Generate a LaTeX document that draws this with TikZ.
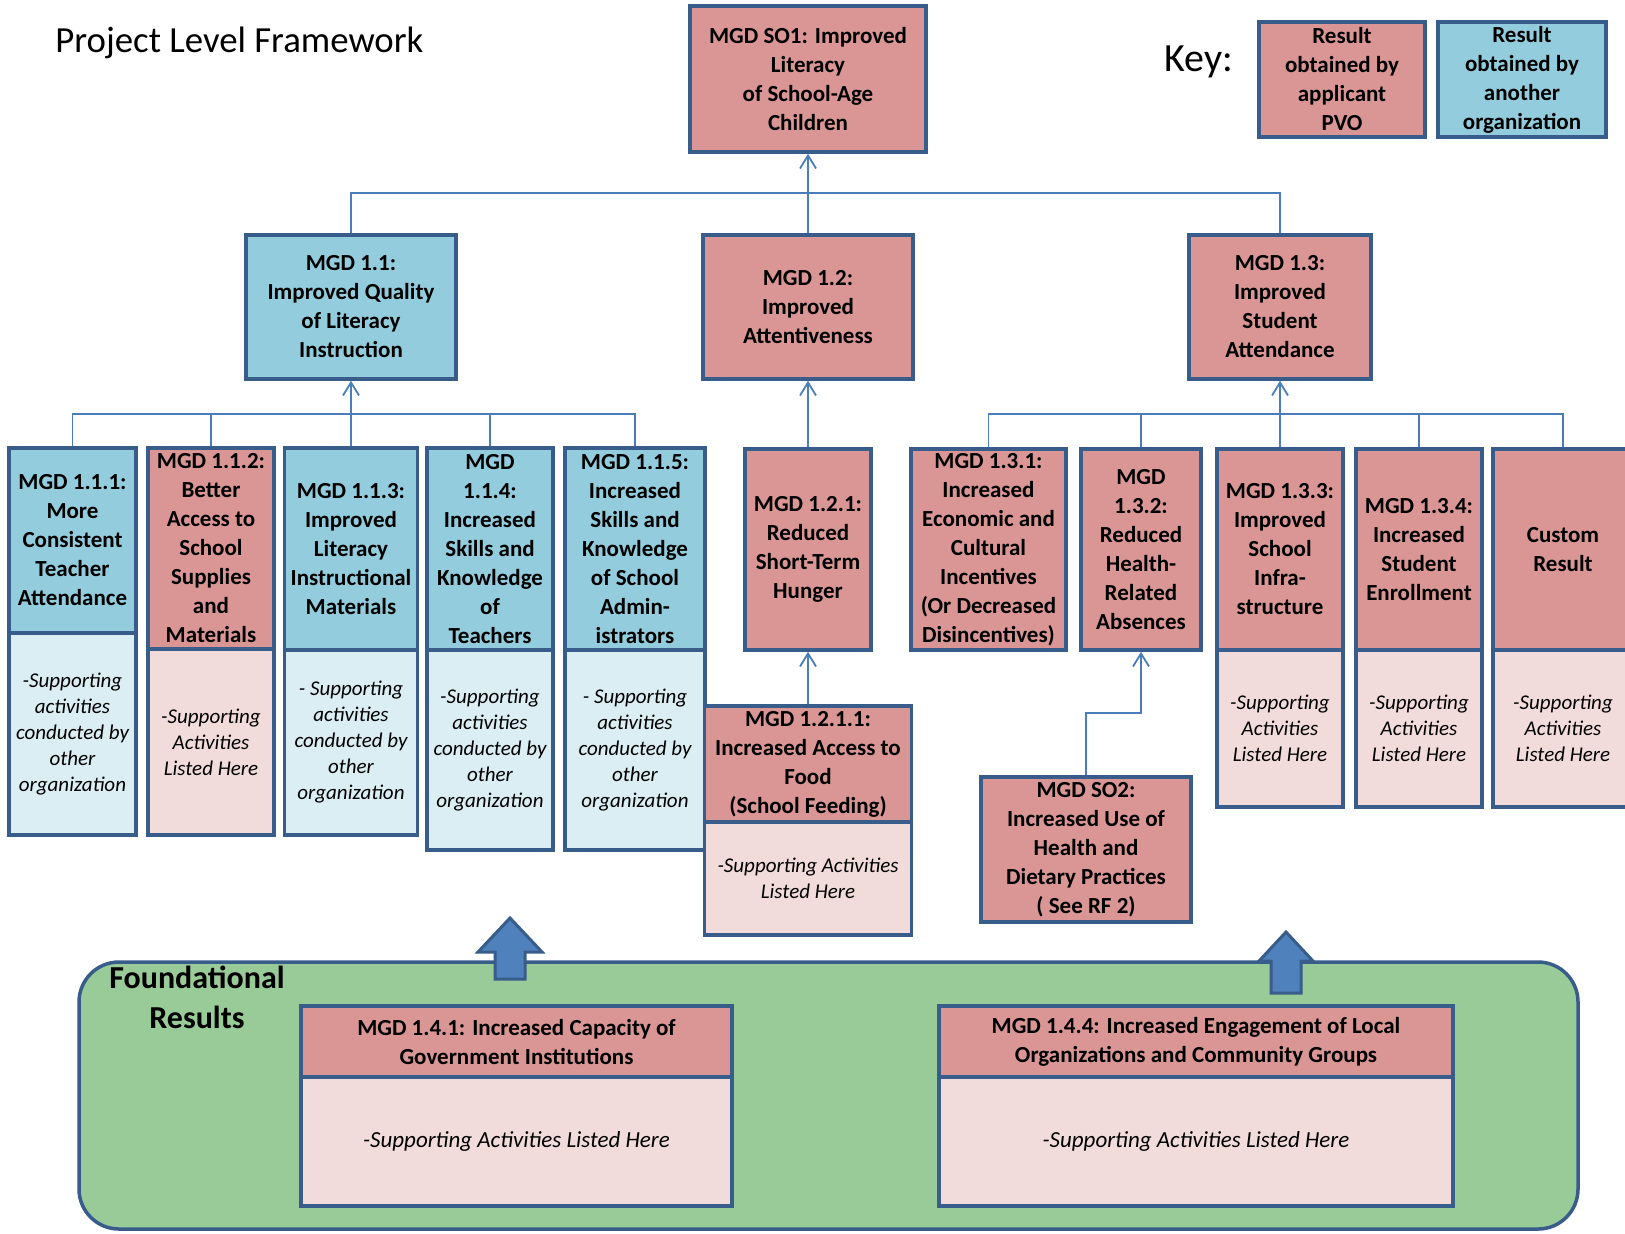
\documentclass[tikz,border=0pt]{standalone}
\usepackage{fontspec}
\setmainfont{Carlito}
\usetikzlibrary{arrows.meta}
\definecolor{pinkH}{HTML}{D99694}
\definecolor{pinkL}{HTML}{F2DCDB}
\definecolor{blueH}{HTML}{93CDDD}
\definecolor{blueL}{HTML}{DBEEF4}
\definecolor{bord}{HTML}{385D8A}
\definecolor{lineC}{HTML}{4A7EBB}
\definecolor{greenF}{HTML}{99CB98}
\definecolor{arrF}{HTML}{4F81BD}
\begin{document}
\begin{tikzpicture}[x=0.5pt,y=-0.5pt,
  box/.style={draw=bord,line width=1.75pt,inner sep=0pt,align=center,
    font=\fontsize{11.5}{14.5}\selectfont\bfseries},
  pk/.style={box,fill=pinkH},
  bl/.style={box,fill=blueH},
  pkb/.style={box,fill=pinkL,font=\fontsize{10.5}{13}\selectfont\itshape},
  blb/.style={box,fill=blueL,font=\fontsize{10.5}{13}\selectfont\itshape},
  pkbig/.style={box,fill=pinkL,font=\fontsize{11.5}{13}\selectfont\itshape},
  sz/.style 2 args={minimum width=#1*0.5pt,minimum height=#2*0.5pt},
  conn/.style={draw=lineC,line width=0.9pt},
  arr/.style={conn,-{Straight Barb[length=6.5pt,width=8pt]}},
  blockarrow/.style={fill=arrF,draw=bord,line width=1.5pt,line join=miter}
]
\useasboundingbox (0,0) rectangle (1625,1233);
\clip (0,0) rectangle (1625,1233);
\fill[white] (0,0) rectangle (1625,1233);

% title and key
\node[anchor=base west,inner sep=0pt,font=\fontsize{18.4}{22}\selectfont] (title) at (55,52) {Project Level Framework};
\node[anchor=base west,inner sep=0pt,font=\fontsize{20}{24}\selectfont] (key) at (1164,71) {Key:};
\node[pk,sz={166}{115}] (key1) at (1342,79.5) {Result\\obtained by\\applicant\\PVO};
\node[bl,sz={168}{115}] (key2) at (1522,79.5) {Result\\obtained by\\another\\organization};

% top levels
\node[pk,sz={236}{146}] (so1) at (808,79) {MGD SO1: Improved\\Literacy\\of School-Age\\Children};
\node[bl,sz={210}{144}] (m11) at (351,307) {MGD 1.1:\\Improved Quality\\of Literacy\\Instruction};
\node[pk,sz={210}{144}] (m12) at (808,307) {MGD 1.2:\\Improved\\Attentiveness};
\node[pk,sz={182}{144}] (m13) at (1280,307) {MGD 1.3:\\Improved\\Student\\Attendance};

% row 3 (MGD 1.1.x)
\node[bl,sz={127}{185}] (m111) at (72.5,540.5) {MGD 1.1.1:\\More\\Consistent\\Teacher\\Attendance};
\node[blb,sz={127}{202}] (m111b) at (72.5,734) {-Supporting\\activities\\conducted by\\other\\organization};
\node[pk,sz={126}{201}] (m112) at (211,548.5) {MGD 1.1.2:\\Better\\Access to\\School\\Supplies\\and\\Materials};
\node[pkb,sz={126}{186}] (m112b) at (211,742) {-Supporting\\Activities\\Listed Here};
\node[bl,sz={133}{202}] (m113) at (351,549) {MGD 1.1.3:\\Improved\\Literacy\\Instructional\\Materials};
\node[blb,sz={133}{185}] (m113b) at (351,742.5) {- Supporting\\activities\\conducted by\\other\\organization};
\node[bl,sz={126}{202}] (m114) at (490,549) {MGD\\1.1.4:\\Increased\\Skills and\\Knowledge\\of\\Teachers};
\node[blb,sz={126}{200}] (m114b) at (490,750) {-Supporting\\activities\\conducted by\\other\\organization};
\node[bl,sz={140}{202}] (m115) at (635,549) {MGD 1.1.5:\\Increased\\Skills and\\Knowledge\\of School\\Admin-\\istrators};
\node[blb,sz={140}{200}] (m115b) at (635,750) {- Supporting\\activities\\conducted by\\other\\organization};

% MGD 1.2.x
\node[pk,sz={126}{201}] (m121) at (808,549.5) {MGD 1.2.1:\\Reduced\\Short-Term\\Hunger};
\node[pk,sz={207}{116}] (m1211) at (808,764) {MGD 1.2.1.1:\\Increased Access to\\Food\\(School Feeding)};
\node[pkb,sz={207}{113}] (m1211b) at (808,878.5) {-Supporting Activities\\Listed Here};

% MGD 1.3.x
\node[pk,sz={155}{201}] (m131) at (988.5,549.5) {MGD 1.3.1:\\Increased\\Economic and\\Cultural\\Incentives\\(Or Decreased\\Disincentives)};
\node[pk,sz={120}{201}] (m132) at (1141,549.5) {MGD\\1.3.2:\\Reduced\\Health-\\Related\\Absences};
\node[pk,sz={126}{201}] (m133) at (1280,549.5) {MGD 1.3.3:\\Improved\\School\\Infra-\\structure};
\node[pkb,sz={126}{157}] (m133b) at (1280,728.5) {-Supporting\\Activities\\Listed Here};
\node[pk,sz={126}{201}] (m134) at (1419,549.5) {MGD 1.3.4:\\Increased\\Student\\Enrollment};
\node[pkb,sz={126}{157}] (m134b) at (1419,728.5) {-Supporting\\Activities\\Listed Here};
\node[pk,sz={140}{201}] (cust) at (1563,549.5) {Custom\\Result};
\node[pkb,sz={140}{157}] (custb) at (1563,728.5) {-Supporting\\Activities\\Listed Here};
\node[pk,sz={210}{145}] (so2) at (1086,849.5) {MGD SO2:\\Increased Use of\\Health and\\Dietary Practices\\( See RF 2)};

% connectors
\coordinate (b1) at (808,193);
\draw[conn] (m11.north) |- (b1) -| (m13.north);
\draw[arr] (m12.north) -- (so1.south);

\coordinate (b2) at (351,414);
\draw[conn] (m111.north) |- (m115.north |- b2) -- (m115.north);
\draw[conn] (m112.north) -- (m112.north |- b2);
\draw[conn] (m114.north) -- (m114.north |- b2);
\draw[conn] (m113.north) -- (b2);
\draw[arr] (b2) -- (m11.south);

\draw[arr] (m121.north) -- (m12.south);
\draw[arr] (m1211.north) -- (m121.south);

\coordinate (b3) at (1280,414);
\draw[conn] (m131.north) |- (cust.north |- b3) -- (cust.north);
\draw[conn] (m132.north) -- (m132.north |- b3);
\draw[conn] (m134.north) -- (m134.north |- b3);
\draw[conn] (m133.north) -- (b3);
\draw[arr] (b3) -- (m13.south);

\coordinate (j) at (1086,713);
\draw[arr] (so2.north) -- (j) -| (m132.south);

% foundational results
\node[draw=bord,line width=1.75pt,fill=greenF,rounded corners=20pt,minimum width=1499*0.5pt,minimum height=267*0.5pt] (fnd) at (828.5,1095.5) {};
\node[inner sep=0pt,align=center,font=\fontsize{16}{20}\selectfont\bfseries] (fndt) at (197,997) {Foundational\\Results};
\node[pk,sz={431}{71}] (m141) at (516.5,1041.5) {MGD 1.4.1: Increased Capacity of\\Government Institutions};
\node[pkbig,sz={431}{129}] (m141b) at (516.5,1141.5) {-Supporting Activities Listed Here};
\node[pk,sz={514}{71}] (m144) at (1196,1041.5) {MGD 1.4.4: Increased Engagement of Local\\Organizations and Community Groups};
\node[pkbig,sz={514}{129}] (m144b) at (1196,1141.5) {-Supporting Activities Listed Here};

% block arrows
\draw[blockarrow] (495,979) -- (495,952) -- (478,952) -- (510,918) -- (542,952) -- (525,952) -- (525,979) -- cycle;
\draw[blockarrow] (1271,993) -- (1271,961) -- (1259,961) -- (1286,932) -- (1313,961) -- (1301,961) -- (1301,993) -- cycle;
\end{tikzpicture}
\end{document}
